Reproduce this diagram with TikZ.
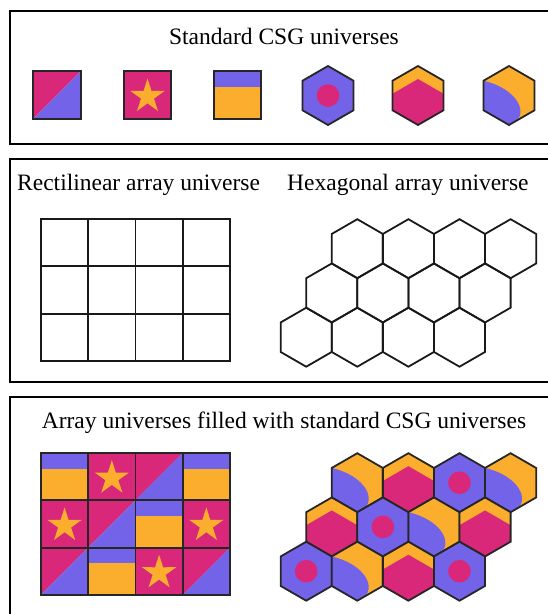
\documentclass[tikz,border=0pt]{standalone}
\usepackage{fontspec}
\setmainfont{Liberation Serif}
\usepackage{tikz}
\definecolor{csgpink}{RGB}{217,40,121}
\definecolor{csgblue}{RGB}{114,99,232}
\definecolor{csgorange}{RGB}{251,173,45}
\newcommand{\sqhalf}{23.65}
\newcommand{\hexcell}{(0,-29.5) -- (25.55,-14.75) -- (25.55,14.75) -- (0,29.5) -- (-25.55,14.75) -- (-25.55,-14.75) -- cycle}

\tikzset{
    cell/.style={line width=1.8pt, draw=black!85},
    gridline/.style={line width=1.8pt, draw=black!90},
    frame/.style={line width=1.5pt, draw=black},
    lbl/.style={font=\fontsize{23.5}{28}\selectfont, inner sep=0pt},
}

% Square universes
\newcommand{\sqdiag}[2]{\begin{scope}[shift={(#1,#2)}]
    \fill[csgpink] (-\sqhalf,-\sqhalf) -- (\sqhalf,-\sqhalf) -- (-\sqhalf,\sqhalf) -- cycle;
    \fill[csgblue] (\sqhalf,-\sqhalf) -- (\sqhalf,\sqhalf) -- (-\sqhalf,\sqhalf) -- cycle;
    \draw[cell] (-\sqhalf,-\sqhalf) rectangle (\sqhalf,\sqhalf);
\end{scope}}
\newcommand{\sqstar}[2]{\begin{scope}[shift={(#1,#2)}]
    \fill[csgpink] (-\sqhalf,-\sqhalf) rectangle (\sqhalf,\sqhalf);
    \fill[csgorange, yshift=-1.5pt] (90:18pt) \foreach \k in {0,...,4} { -- ({126+72*\k}:6.8pt) -- ({162+72*\k}:18pt) } -- cycle;
    \draw[cell] (-\sqhalf,-\sqhalf) rectangle (\sqhalf,\sqhalf);
\end{scope}}
\newcommand{\sqband}[2]{\begin{scope}[shift={(#1,#2)}]
    \fill[csgorange] (-\sqhalf,-\sqhalf) rectangle (\sqhalf,\sqhalf);
    \fill[csgblue] (-\sqhalf,-\sqhalf) rectangle (\sqhalf,-7.9);
    \draw[cell] (-\sqhalf,-\sqhalf) rectangle (\sqhalf,\sqhalf);
\end{scope}}

% Hexagonal universes
\newcommand{\hexdot}[2]{\begin{scope}[shift={(#1,#2)}]
    \fill[csgblue] \hexcell;
    \fill[csgpink] (0,0) circle (11.3pt);
    \draw[cell] \hexcell;
\end{scope}}
\newcommand{\hexchev}[2]{\begin{scope}[shift={(#1,#2)}]
    \fill[csgorange] \hexcell;
    \begin{scope}
        \clip \hexcell;
        \fill[csgpink] (0,-16.5) -- (25.55,-1.75) -- (25.55,40) -- (-25.55,40) -- (-25.55,-1.75) -- cycle;
    \end{scope}
    \draw[cell] \hexcell;
\end{scope}}
\newcommand{\hexswoosh}[2]{\begin{scope}[shift={(#1,#2)}]
    \fill[csgorange] \hexcell;
    \begin{scope}
        \clip \hexcell;
        \fill[csgblue] (-25.55,-14.75) .. controls (8,-7) and (21,18) .. (4,28) -- (4,40) -- (-40,40) -- (-40,-14.75) -- cycle;
    \end{scope}
    \draw[cell] \hexcell;
\end{scope}}

\begin{document}
\begin{tikzpicture}[x=1pt, y=-1pt]
    \useasboundingbox (0,0) rectangle (548,614);

    % Panels
    \draw[frame] (10,11) rectangle (580,144);
    \draw[frame] (10,159) rectangle (580,382);
    \draw[frame] (10,397) rectangle (580,640);

    % Standard CSG universes
    \node[lbl, anchor=base] (stdtitle) at (284,44) {Standard CSG universes};
    \sqdiag{57}{95}
    \sqstar{147.5}{95}
    \sqband{237.5}{95}
    \hexdot{328}{95.5}
    \hexchev{418}{95.5}
    \hexswoosh{509}{95.5}

    % Empty array universes
    \node[lbl, anchor=base west] (rectlabel) at (17,190) {Rectilinear array universe};
    \node[lbl, anchor=base west] (hexlabel) at (287,190) {Hexagonal array universe};
    \foreach \c in {0,...,3} {
        \foreach \r in {0,...,2} {
            \draw[gridline] ({41+47.25*\c},{219+47.33*\r}) rectangle +(47.25,47.33);
        }
    }
    \foreach \r in {0,...,2} {
        \foreach \c in {0,...,3} {
            \draw[gridline, shift={({357.3-25.55*\r+51.1*\c},{248.7+44.25*\r})}] \hexcell;
        }
    }

    % Filled array universes
    \node[lbl, anchor=base] (filltitle) at (284,428) {Array universes filled with standard CSG universes};
    \foreach \r/\kinds in {0/{band,star,diag,band},1/{star,diag,band,star},2/{diag,band,star,diag}} {
        \foreach \k [count=\c from 0] in \kinds {
            \csname sq\k\endcsname{64.6+47.25*\c}{476.6+47.33*\r}
        }
    }
    \foreach \r/\kinds in {0/{swoosh,chev,dot,swoosh},1/{chev,dot,swoosh,chev},2/{dot,swoosh,chev,dot}} {
        \foreach \k [count=\c from 0] in \kinds {
            \csname hex\k\endcsname{357.3-25.55*\r+51.1*\c}{482.7+44.25*\r}
        }
    }
\end{tikzpicture}
\end{document}
